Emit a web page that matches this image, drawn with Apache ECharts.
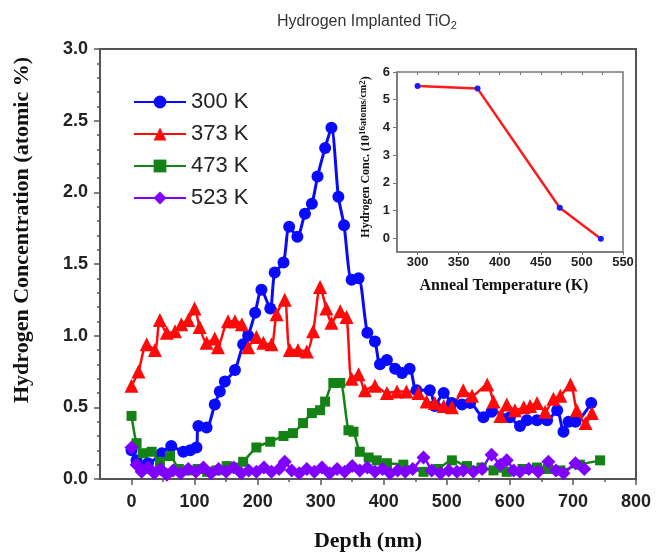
<!DOCTYPE html>
<html><head><meta charset="utf-8">
<script src="https://cdn.jsdelivr.net/npm/echarts@6/dist/echarts.min.js"></script>
<style>html,body{margin:0;padding:0;background:#fff}#c{width:657px;height:557px}</style>
</head><body><div id="c"></div>
<script>
// ---- main chart data ----
const seriesNames = ['300 K', '373 K', '473 K', '523 K'];
const depthTicks = [0, 100, 200, 300, 400, 500, 600, 700, 800];
const depthMinorTicks = [50, 150, 250, 350, 450, 550, 650, 750];
const concTicks = [0, 0.5, 1.0, 1.5, 2.0, 2.5, 3.0];

const h300 = [[0,0.20],[8,0.13],[26,0.11],[48,0.18],[63,0.23],[82,0.19],[93,0.20],[103,0.22],[106,0.37],[119,0.36],[132,0.52],[140,0.61],[148,0.68],[164,0.76],[177,0.94],[185,1.00],[196,1.16],[206,1.32],[220,1.19],[227,1.44],[241,1.51],[250,1.76],[263,1.69],[275,1.85],[286,1.92],[295,2.11],[307,2.31],[317,2.45],[328,1.97],[337,1.77],[349,1.39],[360,1.40],[374,1.02],[386,0.96],[394,0.80],[405,0.83],[418,0.77],[429,0.74],[441,0.77],[452,0.62],[473,0.62],[481,0.51],[495,0.60],[508,0.53],[524,0.52],[537,0.53],[558,0.43],[571,0.47],[600,0.43],[616,0.37],[627,0.41],[643,0.41],[659,0.41],[675,0.48],[685,0.33],[693,0.40],[704,0.40],[729,0.53]];

const h373 = [[0,0.65],[11,0.75],[24,0.94],[37,0.90],[45,1.11],[56,1.02],[69,1.03],[79,1.08],[90,1.11],[100,1.19],[108,1.06],[119,0.95],[132,0.98],[137,0.92],[153,1.10],[164,1.10],[175,1.08],[185,0.92],[198,0.99],[209,0.95],[222,0.94],[230,1.15],[243,1.25],[251,0.90],[264,0.90],[278,0.89],[288,1.03],[299,1.34],[309,1.19],[317,1.09],[331,1.17],[341,1.13],[349,0.70],[360,0.73],[370,0.62],[386,0.65],[405,0.60],[421,0.61],[436,0.61],[455,0.60],[468,0.54],[481,0.53],[495,0.51],[508,0.50],[526,0.62],[540,0.58],[564,0.66],[574,0.54],[585,0.44],[595,0.52],[608,0.48],[622,0.50],[632,0.51],[643,0.53],[656,0.47],[669,0.56],[680,0.58],[696,0.66],[706,0.48],[720,0.39],[730,0.46]];

const h473 = [[0,0.44],[8,0.25],[18,0.18],[32,0.19],[45,0.12],[61,0.16],[75,0.07],[90,0.06],[105,0.07],[120,0.05],[135,0.06],[151,0.09],[165,0.08],[177,0.12],[198,0.22],[220,0.26],[241,0.30],[256,0.32],[272,0.39],[286,0.46],[299,0.48],[307,0.54],[320,0.67],[331,0.67],[344,0.34],[352,0.33],[362,0.19],[376,0.15],[389,0.13],[405,0.11],[431,0.10],[463,0.05],[486,0.07],[508,0.13],[532,0.09],[555,0.08],[574,0.06],[595,0.05],[620,0.07],[643,0.08],[660,0.07],[680,0.06],[711,0.10],[743,0.13]];

const h523 = [[0,0.22],[8,0.10],[16,0.05],[26,0.08],[36,0.04],[46,0.07],[56,0.03],[66,0.06],[78,0.04],[90,0.07],[102,0.05],[114,0.08],[126,0.04],[138,0.07],[150,0.05],[162,0.08],[174,0.04],[186,0.06],[198,0.05],[210,0.08],[222,0.05],[234,0.07],[243,0.12],[254,0.06],[266,0.04],[278,0.07],[290,0.05],[302,0.08],[314,0.04],[326,0.07],[338,0.05],[350,0.09],[362,0.06],[374,0.08],[386,0.05],[398,0.07],[410,0.04],[422,0.06],[434,0.05],[446,0.07],[463,0.15],[476,0.06],[490,0.04],[503,0.06],[516,0.05],[526,0.06],[542,0.05],[556,0.07],[571,0.17],[585,0.10],[595,0.13],[606,0.06],[616,0.05],[630,0.07],[645,0.05],[661,0.12],[673,0.06],[685,0.04],[704,0.11],[718,0.07]];

// ---- inset data ----
const annealTemps = [300, 373, 473, 523];
const annealConc = [5.49, 5.40, 1.10, -0.02];
const annealTicks = [300, 350, 400, 450, 500, 550];
const annealMinorTicks = [300, 325, 350, 375, 400, 425, 450, 475, 500, 525];
const insetConcTicks = [0, 1, 2, 3, 4, 5, 6];

const chart = echarts.init(document.getElementById('c'), null, {renderer: 'canvas'});
const sans = 'Liberation Sans, Arial, sans-serif';
const serif = 'Liberation Serif, Times New Roman, serif';
const axisCol = '#555';

function lineSeries(name, data, color, symbol, size, width) {
  return {
    name, type: 'line', data, xAxisIndex: 0, yAxisIndex: 0,
    symbol, symbolSize: size, smooth: 0.25,
    lineStyle: {color, width}, itemStyle: {color},
    emphasis: {disabled: true}, animation: false
  };
}

const option = {
  backgroundColor: '#fff',
  animation: false,
  title: {
    text: 'Hydrogen Implanted TiO{s|2}',
    left: 272, top: 7,
    textStyle: {fontFamily: sans, fontSize: 16, fontWeight: 'normal', color: '#333',
      rich: {s: {fontFamily: sans, fontSize: 11, verticalAlign: 'bottom', padding: [8, 0, 0, 0], color: '#333'}}}
  },
  legend: {
    data: seriesNames, orient: 'vertical', left: 128, top: 85,
    itemWidth: 52, itemHeight: 16, itemGap: 8,
    textStyle: {fontFamily: sans, fontSize: 22, color: '#222', lineHeight: 24}
  },
  grid: [
    {left: 100, top: 49, width: 536, height: 430, show: true, borderColor: axisCol, borderWidth: 2, backgroundColor: 'transparent'},
    {left: 397, top: 72, width: 226, height: 180, show: true, borderColor: '#777', borderWidth: 1.5, backgroundColor: '#fff'}
  ],
  xAxis: [
    {type: 'value', gridIndex: 0, min: -50, max: 800, position: 'bottom',
      axisLine: {show: true, onZero: false, lineStyle: {color: axisCol, width: 2}},
      axisTick: {show: true, inside: false, length: 6, customValues: depthTicks, lineStyle: {color: axisCol, width: 1.5}},
      axisLabel: {customValues: depthTicks, margin: 14, fontFamily: sans, fontSize: 18, fontWeight: 'bold', color: '#222'},
      splitLine: {show: false}},
    {type: 'value', gridIndex: 0, min: -50, max: 800, position: 'bottom',
      axisLine: {show: false, onZero: false},
      axisTick: {show: true, inside: false, length: 3, customValues: depthMinorTicks, lineStyle: {color: axisCol, width: 1.5}},
      axisLabel: {show: false}, splitLine: {show: false}},
    {type: 'value', gridIndex: 1, min: 275, max: 550, position: 'bottom',
      axisLine: {show: true, onZero: false, lineStyle: {color: '#777', width: 1.5}},
      axisTick: {show: true, inside: false, length: 3, customValues: annealTicks, lineStyle: {color: '#777'}},
      axisLabel: {customValues: annealTicks, margin: 4, fontFamily: sans, fontSize: 13, fontWeight: 'bold', color: '#222'},
      splitLine: {show: false}},
    {type: 'value', gridIndex: 1, min: 275, max: 550, position: 'top',
      axisLine: {show: false, onZero: false},
      axisTick: {show: true, inside: true, length: 3, customValues: annealMinorTicks, lineStyle: {color: '#777'}},
      axisLabel: {show: false}, splitLine: {show: false}}
  ],
  yAxis: [
    {type: 'value', gridIndex: 0, min: 0, max: 3, interval: 0.5, position: 'left',
      axisLine: {show: true, onZero: false, lineStyle: {color: axisCol, width: 2}},
      axisTick: {show: true, inside: false, length: 6, lineStyle: {color: axisCol, width: 1.5}},
      minorTick: {show: true, splitNumber: 5, length: 3, lineStyle: {color: axisCol, width: 1.5}},
      axisLabel: {margin: 12, fontFamily: sans, fontSize: 18, fontWeight: 'bold', color: '#222', formatter: v => v.toFixed(1)},
      splitLine: {show: false}},
    {type: 'value', gridIndex: 1, min: -0.5, max: 6, position: 'left',
      axisLine: {show: true, onZero: false, lineStyle: {color: '#777', width: 1.5}},
      axisTick: {show: true, inside: false, length: 4, customValues: insetConcTicks, lineStyle: {color: '#777'}},
      axisLabel: {customValues: insetConcTicks, margin: 7, fontFamily: sans, fontSize: 13, fontWeight: 'bold', color: '#222'},
      splitLine: {show: false}}
  ],
  series: [
    lineSeries(seriesNames[0], h300, '#0a0aff', 'circle', 12, 3),
    lineSeries(seriesNames[1], h373, '#ff0a0a', 'triangle', 14, 2.5),
    lineSeries(seriesNames[2], h473, '#148214', 'rect', 10, 2.5),
    lineSeries(seriesNames[3], h523, '#8000ff', 'diamond', 14, 2.5),
    {type: 'line', xAxisIndex: 2, yAxisIndex: 1, data: annealTemps.map((t, i) => [t, annealConc[i]]),
      symbol: 'circle', symbolSize: 6, lineStyle: {color: '#ff1a1a', width: 2.5}, itemStyle: {color: '#1a1aff'},
      emphasis: {disabled: true}, animation: false, z: 5}
  ],
  graphic: [
    {type: 'text', x: 22, y: 230, rotation: Math.PI / 2,
      style: {text: 'Hydrogen Concentration (atomic %)', fontFamily: serif, fontSize: 22, fontWeight: 'bold', fill: '#111', align: 'center', verticalAlign: 'middle'}},
    {type: 'text', x: 368, y: 541,
      style: {text: 'Depth (nm)', fontFamily: serif, fontSize: 22, fontWeight: 'bold', fill: '#111', align: 'center', verticalAlign: 'middle'}},
    {type: 'text', x: 504, y: 286,
      style: {text: 'Anneal Temperature (K)', fontFamily: serif, fontSize: 16, fontWeight: 'bold', fill: '#111', align: 'center', verticalAlign: 'middle'}},
    {type: 'text', x: 366, y: 157, rotation: Math.PI / 2,
      style: {text: 'Hydrogen Conc. (10{sup|16}{sm|atoms/cm}{sup|2}{b|)}', fontFamily: serif, fontSize: 12, fontWeight: 'bold', fill: '#111', align: 'center', verticalAlign: 'middle',
        rich: {
          sup: {fontFamily: serif, fontSize: 9, fontWeight: 'bold', fill: '#111', verticalAlign: 'top', lineHeight: 16},
          sm: {fontFamily: serif, fontSize: 10, fontWeight: 'bold', fill: '#111', verticalAlign: 'top', lineHeight: 16},
          b: {fontFamily: serif, fontSize: 12, fontWeight: 'bold', fill: '#111', lineHeight: 16}
        }}}
  ]
};
chart.setOption(option);
</script>
</body></html>
